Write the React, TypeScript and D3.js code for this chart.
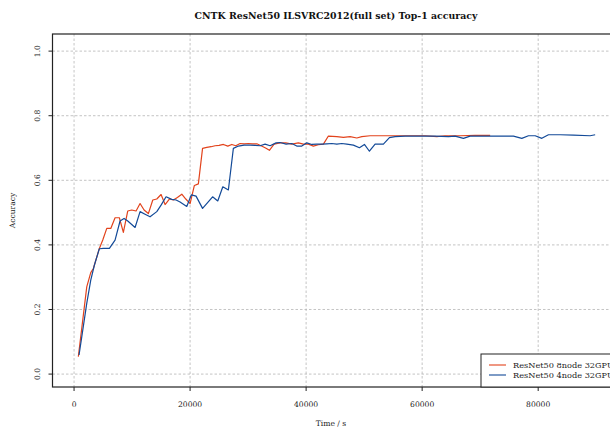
import React from 'react';
import * as d3 from 'd3';

// time (s), top-1 accuracy
const node8: [number, number][] = [
  [740, 0.054], [2190, 0.27], [2880, 0.314], [3330, 0.327], [4360, 0.389], [4950, 0.415],
  [5640, 0.451], [6330, 0.451], [7070, 0.484], [7810, 0.484], [8500, 0.439], [9260, 0.505],
  [9950, 0.508], [10690, 0.505], [11380, 0.528], [12070, 0.508], [12810, 0.497], [13570, 0.539],
  [14260, 0.542], [15000, 0.556], [15690, 0.525], [16430, 0.542], [17120, 0.539], [17810, 0.547],
  [18570, 0.557], [19260, 0.542], [20000, 0.528], [20740, 0.584], [21430, 0.589], [22150, 0.699],
  [22880, 0.702], [23620, 0.704], [24310, 0.707], [25000, 0.708], [25740, 0.711], [26500, 0.706],
  [27190, 0.711], [27880, 0.707], [28620, 0.714], [29310, 0.713], [30050, 0.714], [30740, 0.713],
  [31500, 0.713], [32320, 0.706], [33010, 0.7], [33670, 0.693], [34480, 0.712], [35510, 0.716],
  [36500, 0.716], [37530, 0.712], [38670, 0.716], [39530, 0.712], [40390, 0.712], [41250, 0.706],
  [42110, 0.71], [42980, 0.712], [43840, 0.737], [45290, 0.735], [46430, 0.733], [47580, 0.735],
  [48740, 0.731], [49600, 0.735], [51030, 0.738], [52750, 0.738], [55340, 0.738], [57930, 0.738],
  [60510, 0.738], [62530, 0.735], [63960, 0.738], [66550, 0.738], [69130, 0.739], [71720, 0.739],
];

const node4: [number, number][] = [
  [860, 0.059], [1330, 0.115], [2190, 0.219], [2880, 0.291], [3500, 0.337], [4360, 0.388],
  [5050, 0.389], [6090, 0.389], [7070, 0.415], [7930, 0.474], [8620, 0.482], [9260, 0.474],
  [10520, 0.454], [11380, 0.503], [12240, 0.495], [13100, 0.487], [14260, 0.503], [15000, 0.523],
  [15860, 0.549], [16840, 0.541], [17590, 0.539], [18270, 0.533], [19430, 0.519], [20220, 0.555],
  [21030, 0.551], [22150, 0.513], [23020, 0.531], [23880, 0.549], [24770, 0.536], [25640, 0.58],
  [26600, 0.57], [27460, 0.699], [28330, 0.706], [29310, 0.709], [30340, 0.709], [31200, 0.708],
  [32070, 0.707], [32930, 0.712], [33790, 0.707], [34820, 0.716], [35510, 0.717], [36550, 0.712],
  [37530, 0.714], [38390, 0.706], [39260, 0.706], [40120, 0.716], [40980, 0.711], [41840, 0.712],
  [42700, 0.712], [43570, 0.713], [44430, 0.714], [45290, 0.712], [46150, 0.714], [47010, 0.712],
  [48150, 0.709], [49190, 0.701], [50050, 0.711], [50910, 0.69], [51890, 0.712], [53320, 0.712],
  [54360, 0.732], [55340, 0.735], [57060, 0.737], [59650, 0.737], [62240, 0.737], [64530, 0.735],
  [65680, 0.737], [67120, 0.73], [68270, 0.737], [70860, 0.737], [73440, 0.737], [75740, 0.737],
  [77180, 0.73], [78330, 0.738], [79480, 0.738], [80630, 0.73], [81770, 0.741], [83790, 0.741],
  [86080, 0.74], [88960, 0.738], [89820, 0.741],
];

const seriesNames = ['ResNet50 8node 32GPU', 'ResNet50 4node 32GPU'];
const xTicks = [0, 20000, 40000, 60000, 80000];
const yTicks = [0.0, 0.2, 0.4, 0.6, 0.8, 1.0];

const W = 610;
const H = 428;
const left = 52.5, right = 621, top = 34, bottom = 387;
const font = '"DejaVu Serif", serif';
const red = '#e2431c';
const blue = '#134a98';

export default function App() {
  const x = d3.scaleLinear().domain([-3714, 94274]).range([left, right]);
  const y = d3.scaleLinear().domain([-0.04, 1.053]).range([bottom, top]);
  const line = d3.line<[number, number]>().x(d => x(d[0])).y(d => y(d[1]));

  React.useEffect(() => {
    document.body.style.margin = '0';
  }, []);

  return (
    <svg width={W} height={H} style={{ display: 'block', background: '#fff' }} fontFamily={font}>
      <defs>
        <clipPath id="plot">
          <rect x={left} y={top} width={right - left} height={bottom - top} />
        </clipPath>
      </defs>
      <text x={336} y={19} textAnchor="middle" fontSize={9.4} fontWeight="bold" fill="#111">
        CNTK ResNet50 ILSVRC2012(full set) Top-1 accuracy
      </text>

      {/* grid */}
      <g stroke="#b5b5b5" strokeWidth={0.8} strokeDasharray="2.5,2">
        {xTicks.map(t => (
          <line key={'gx' + t} x1={x(t)} x2={x(t)} y1={top} y2={bottom} />
        ))}
        {yTicks.map(t => (
          <line key={'gy' + t} x1={left} x2={right} y1={y(t)} y2={y(t)} />
        ))}
      </g>

      <g clipPath="url(#plot)" fill="none" strokeWidth={1.2} strokeLinejoin="round">
        <path d={line(node8) ?? ''} stroke={red} />
        <path d={line(node4) ?? ''} stroke={blue} />
      </g>

      {/* frame */}
      <rect x={left} y={top} width={right - left} height={bottom - top} fill="none" stroke="#222" strokeWidth={1.2} />

      {/* ticks */}
      <g stroke="#222" strokeWidth={1}>
        {xTicks.map(t => (
          <line key={'tx' + t} x1={x(t)} x2={x(t)} y1={bottom} y2={bottom + 4} />
        ))}
        {yTicks.map(t => (
          <line key={'ty' + t} x1={left - 4} x2={left} y1={y(t)} y2={y(t)} />
        ))}
      </g>
      <g fontSize={7.6} fill="#222">
        {xTicks.map(t => (
          <text key={'lx' + t} x={x(t)} y={bottom + 20} textAnchor="middle">{t}</text>
        ))}
        {yTicks.map(t => (
          <text key={'ly' + t} transform={`translate(${left - 13},${y(t)}) rotate(-90)`} textAnchor="middle">
            {d3.format('.1f')(t)}
          </text>
        ))}
      </g>
      <text x={331} y={426} textAnchor="middle" fontSize={7.6} fill="#222">Time / s</text>
      <text transform={`translate(15,${(top + bottom) / 2}) rotate(-90)`} textAnchor="middle" fontSize={7.6} fill="#222">
        Accuracy
      </text>

      {/* legend */}
      <g>
        <rect x={481} y={354} width={160} height={33} fill="#fff" stroke="#222" strokeWidth={1} />
        {[red, blue].map((c, i) => (
          <g key={c}>
            <line x1={489} x2={506} y1={365 + i * 10} y2={365 + i * 10} stroke={c} strokeWidth={1.1} />
            <text x={513} y={368 + i * 10} fontSize={8.2} fill="#222">{seriesNames[i]}</text>
          </g>
        ))}
      </g>
    </svg>
  );
}
